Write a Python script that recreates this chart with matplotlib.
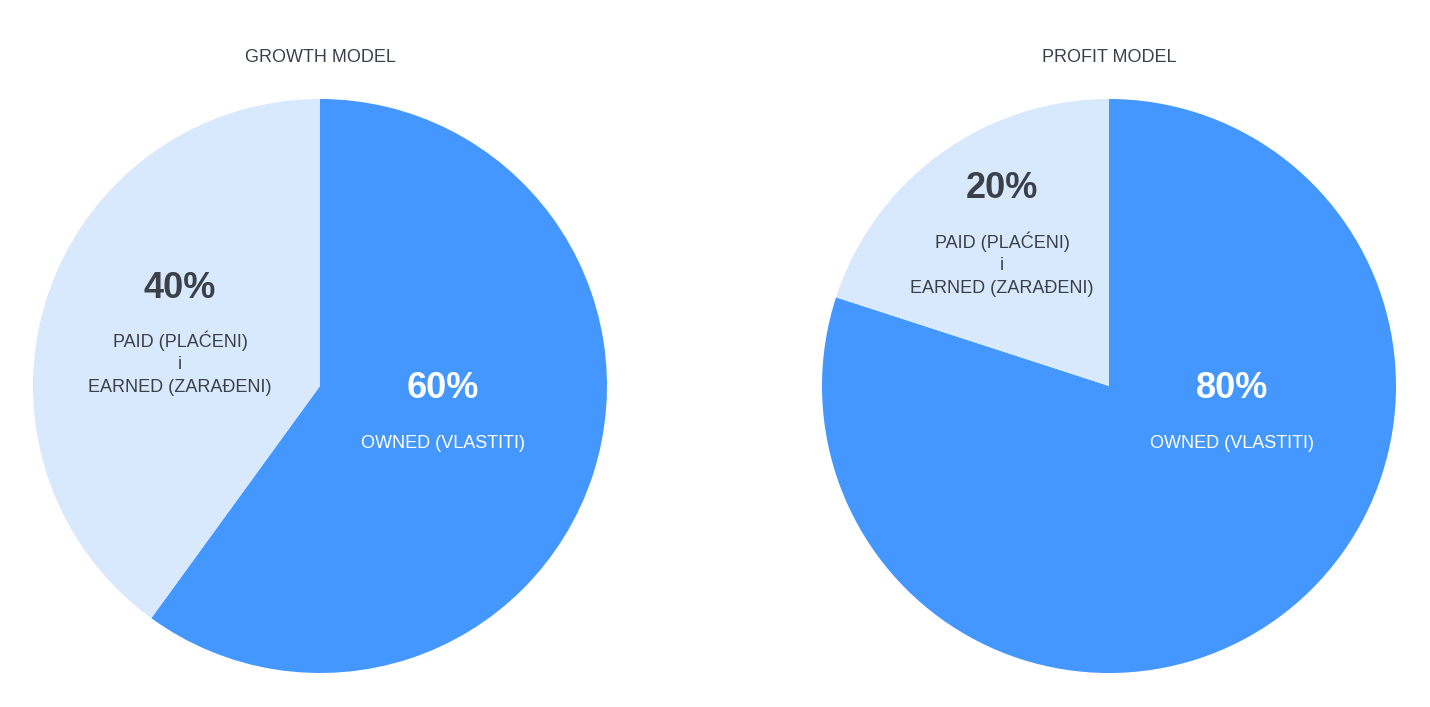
import matplotlib.pyplot as plt

plt.rcParams['font.family'] = ['Liberation Sans', 'DejaVu Sans']

# data
titles = ["GROWTH MODEL", "PROFIT MODEL"]
owned = [60, 80]
paid = [40, 20]
owned_label = "OWNED (VLASTITI)"
paid_label = "PAID (PLAĆENI)\ni\nEARNED (ZARAĐENI)"

dark_blue = "#4397FF"
light_blue = "#D8E8FD"
text_col = "#3B4049"

W, H = 1430, 707
fig = plt.figure(figsize=(W / 100, H / 100), dpi=100)
ax = fig.add_axes([0, 0, 1, 1])
ax.set_xlim(0, W)
ax.set_ylim(0, H)
ax.set_aspect("equal")
ax.axis("off")

centers = [(320, H - 386), (1109, H - 386)]
radius = 287
# label anchors (pixels, relative to pie centre) for paid block and owned block
paid_pos = [(-140, 98), (-107, 197)]
owned_pos = [(123, -2), (123, -2)]

for i in range(2):
    cx, cy = centers[i]
    ax.pie([owned[i], paid[i]], colors=[dark_blue, light_blue], startangle=90,
           counterclock=False, center=(cx, cy), radius=radius,
           wedgeprops=dict(linewidth=0))
    ax.text(cx, H - 58, titles[i], ha="center", va="center", fontsize=13,
            color=text_col)
    # paid / earned
    px, py = cx + paid_pos[i][0], cy + paid_pos[i][1]
    ax.text(px, py, f"{paid[i]}%", ha="center", va="center", fontsize=26,
            fontweight="bold", color=text_col)
    ax.text(px, py - 75, paid_label, ha="center", va="center", fontsize=13,
            color=text_col, linespacing=1.42)
    # owned
    ox, oy = cx + owned_pos[i][0], cy + owned_pos[i][1]
    ax.text(ox, oy, f"{owned[i]}%", ha="center", va="center", fontsize=26,
            fontweight="bold", color="white")
    ax.text(ox, oy - 56, owned_label, ha="center", va="center", fontsize=13,
            color="white")

ax.set_xlim(0, W)
ax.set_ylim(0, H)
fig.savefig("out.png", dpi=100, facecolor="white")
